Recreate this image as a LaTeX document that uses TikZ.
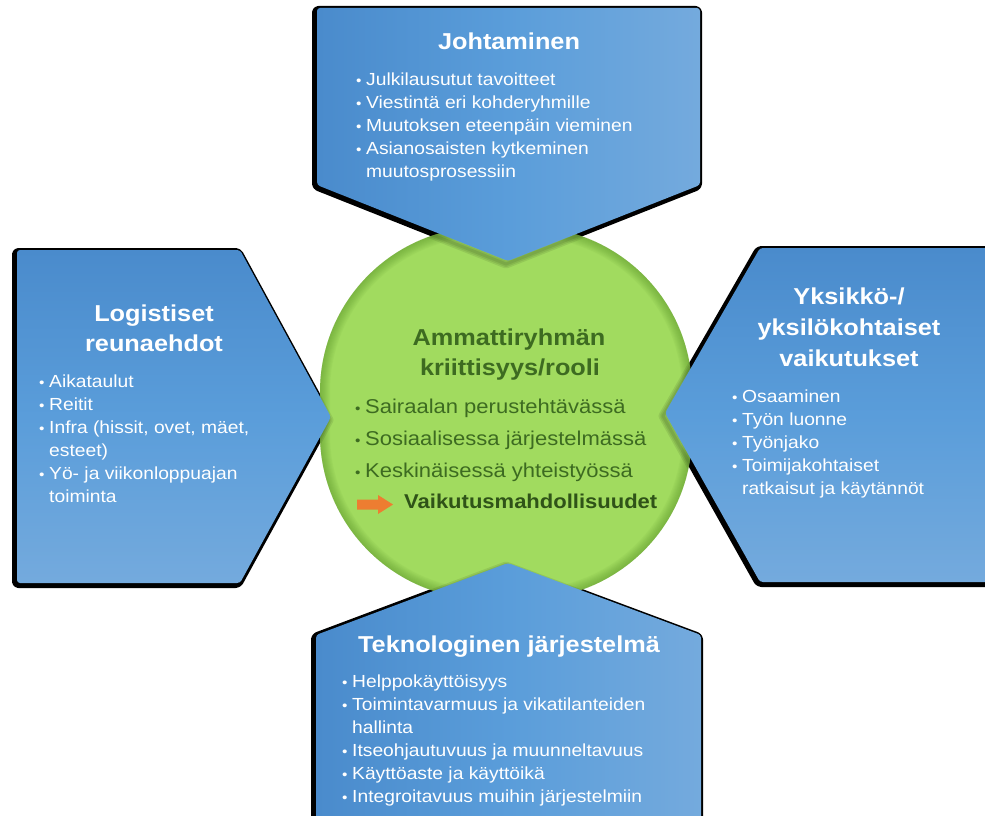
\documentclass[tikz,border=0pt]{standalone}
\usepackage{fontspec}
\setmainfont{Liberation Sans}[FakeStretch=1.1]
\definecolor{bluedark}{HTML}{4A8BCC}
\definecolor{bluemid}{HTML}{5A9DDA}
\definecolor{bluelight}{HTML}{74AADD}
\definecolor{leaf}{HTML}{A1DB5F}
\definecolor{leafrim}{HTML}{4F8A22}
\definecolor{leaftext}{HTML}{3D6B21}
\definecolor{leafbold}{HTML}{2F5318}
\definecolor{arroworange}{HTML}{ED7D31}
% bullet item with hanging indent and a small dot
\newcommand\itm[2][10pt]{\hangindent=#1\hangafter=1\noindent\makebox[#1][l]{\fontsize{14}{14}\selectfont\textbullet}#2\par}
% list box whose baseline is the first line
\newcommand\listbox[1]{\parbox[t]{330pt}{\parskip=0pt #1}}
% panel outlines
\newcommand\toppanel{(317,8) -- (700,8) -- (700,185) -- (508,261) -- (317,185) -- cycle}
\newcommand\leftpanel{(17,250) -- (240,250) -- (331,417) -- (240,583) -- (17,583) -- cycle}
\newcommand\rightpanel{(760,248) -- (995,248) -- (995,582) -- (760,582) -- (665,413) -- cycle}
\newcommand\bottompanel{(316,635) -- (508,563) -- (701,635) -- (701,830) -- (316,830) -- cycle}
\newcommand\hubshape{(320,227) rectangle (692,599)}
\begin{document}
\begin{tikzpicture}[x=1pt,y=-1pt,
  rim/.style={draw=black,fill=black,line width=7pt,line join=round,rounded corners=3pt},
  panelh/.style={left color=bluedark,right color=bluelight,middle color=bluemid,rounded corners=3pt},
  panelv/.style={top color=bluedark,bottom color=bluelight,middle color=bluemid,rounded corners=3pt},
  heading/.style={text=white,font=\bfseries\fontsize{23}{30}\selectfont,inner sep=0pt,anchor=base},
  bullets/.style={text=white,font=\fontsize{17.5}{23}\selectfont,inner sep=0pt,anchor=base west},
  hubtitle/.style={text=leaftext,font=\bfseries\fontsize{23}{30}\selectfont,inner sep=0pt,anchor=base},
  hublist/.style={text=leaftext,font=\fontsize{20}{32}\selectfont,inner sep=0pt,anchor=base west}]
\useasboundingbox (0,0) rectangle (985,816);
\fill[white] (0,0) rectangle (985,816);

% dark rims of the four panels
\begin{scope}[shift={(-1.5,1.5)}]
  \path[rim] \toppanel;
  \path[rim] \leftpanel;
  \path[rim] \rightpanel;
  \path[rim] \bottompanel;
\end{scope}

% central hub
\fill[leaf,rounded corners=165pt] \hubshape;
\begin{scope}
  \clip[rounded corners=165pt] \hubshape;
  \foreach \w in {2,4,...,20}
    \draw[leafrim,opacity=0.05,line width=\w pt,rounded corners=165pt] \hubshape;
  % soft shade cast by the panels
  \begin{scope}[shift={(-2,3)}]
    \foreach \w in {3,6,9}
      \draw[black!70!leafrim,opacity=0.10,line width=\w pt,line join=round] \toppanel \leftpanel \rightpanel \bottompanel;
  \end{scope}
\end{scope}

% panels
\path[panelh] \toppanel;
\path[panelv] \leftpanel;
\path[panelv] \rightpanel;
\path[panelh] \bottompanel;

% Johtaminen
\node[heading] (leadT) at (509,50) {Johtaminen};
\node[bullets] (leadL) at (356,85) {\listbox{%
  \itm{Julkilausutut tavoitteet}
  \itm{Viestintä eri kohderyhmille}
  \itm{Muutoksen eteenpäin vieminen}
  \itm{Asianosaisten kytkeminen\newline muutosprosessiin}}};

% Logistiset reunaehdot
\node[heading] (logT1) at (154,321) {Logistiset};
\node[heading] (logT2) at (154,351) {reunaehdot};
\node[bullets] (logL) at (39,387) {\listbox{%
  \itm{Aikataulut}
  \itm{Reitit}
  \itm{Infra (hissit, ovet, mäet,\newline esteet)}
  \itm{Yö- ja viikonloppuajan\newline toiminta}}};

% Yksikkö-/yksilökohtaiset vaikutukset
\node[heading] (unitT1) at (849,304) {Yksikkö-/};
\node[heading] (unitT2) at (849,335) {yksilökohtaiset};
\node[heading] (unitT3) at (849,366) {vaikutukset};
\node[bullets] (unitL) at (732,402) {\listbox{%
  \itm{Osaaminen}
  \itm{Työn luonne}
  \itm{Työnjako}
  \itm{Toimijakohtaiset\newline ratkaisut ja käytännöt}}};

% Teknologinen järjestelmä
\node[heading] (techT) at (509,652) {Teknologinen järjestelmä};
\node[bullets] (techL) at (342,687) {\listbox{%
  \itm{Helppokäyttöisyys}
  \itm{Toimintavarmuus ja vikatilanteiden\newline hallinta}
  \itm{Itseohjautuvuus ja muunneltavuus}
  \itm{Käyttöaste ja käyttöikä}
  \itm{Integroitavuus muihin järjestelmiin}}};

% hub texts
\node[hubtitle] (hubT1) at (509,345) {Ammattiryhmän};
\node[hubtitle] (hubT2) at (510,375) {kriittisyys/rooli};
\node[hublist] (hubL) at (355,413) {\listbox{%
  \itm{Sairaalan perustehtävässä}
  \itm{Sosiaalisessa järjestelmässä}
  \itm{Keskinäisessä yhteistyössä}}};
\fill[arroworange] (357,499.5) -- (378,499.5) -- (378,495) -- (393,504.5) -- (378,514) -- (378,509.5) -- (357,509.5) -- cycle;
\node[anchor=base west,inner sep=0pt,text=leafbold,font=\bfseries\fontsize{20}{24}\selectfont] (hubX) at (404,508) {Vaikutusmahdollisuudet};
\end{tikzpicture}
\end{document}
